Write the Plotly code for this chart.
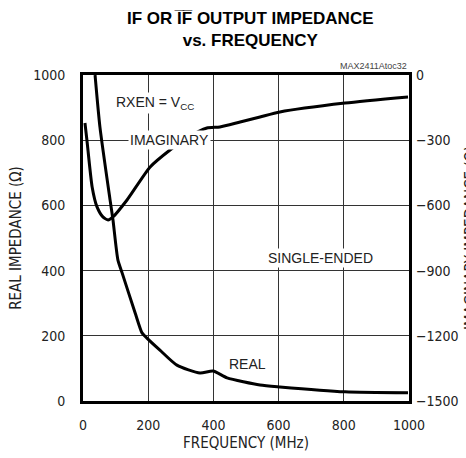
import plotly.graph_objects as go

freq_real = [37, 52, 83, 92, 107, 120, 160, 181, 196, 236, 288, 359, 399, 442, 543, 604, 804, 997]
real_vals = [1000, 840, 617, 555, 433, 393, 270, 209, 193, 156, 110, 86, 92, 71, 49, 43, 28, 25]

freq_imag = [6, 12, 28, 43, 61, 77, 92, 135, 206, 267, 319, 380, 420, 482, 543, 604, 804, 997]
imag_vals = [-221, -299, -515, -607, -653, -667, -653, -575, -423, -345, -290, -244, -239, -216, -193, -170, -129, -101]

x_ticks = [0, 200, 400, 600, 800, 1000]
left_ticks = [0, 200, 400, 600, 800, 1000]
right_ticks = [0, -300, -600, -900, -1200, -1500]

FONT = "DejaVu Sans Condensed, Liberation Sans, Arial, sans-serif"
LFONT = "Liberation Sans, Arial, sans-serif"

fig = go.Figure()
fig.add_trace(go.Scatter(x=freq_real, y=real_vals, mode="lines", line=dict(color="black", width=3, shape="spline", smoothing=0.6), yaxis="y", showlegend=False))
fig.add_trace(go.Scatter(x=freq_imag, y=imag_vals, mode="lines", line=dict(color="black", width=3, shape="spline", smoothing=0.6), yaxis="y2", showlegend=False))

fig.update_layout(
    width=466, height=458,
    margin=dict(l=83, r=57, t=75, b=57),
    paper_bgcolor="white", plot_bgcolor="white",
    font=dict(family=FONT, size=13, color="#222"),
    xaxis=dict(range=[0, 1000], tickvals=x_ticks, ticks="", showgrid=True, gridcolor="#333", gridwidth=1,
               showline=True, linecolor="black", linewidth=3, mirror=True, zeroline=False, automargin=False,
               title=dict(text="FREQUENCY (MHz)", standoff=6, font=dict(size=15)), ticklabelstandoff=9,
               tickfont=dict(size=14)),
    yaxis=dict(range=[0, 1000], tickvals=left_ticks, ticks="", showgrid=True, gridcolor="#333", gridwidth=1,
               showline=True, linecolor="black", linewidth=3, mirror=True, zeroline=False, automargin=False,
               title=dict(text="REAL IMPEDANCE (Ω)", standoff=8, font=dict(size=15)), ticklabelstandoff=12,
               tickfont=dict(size=14)),
    yaxis2=dict(range=[-1500, 0], tickvals=right_ticks, ticks="", overlaying="y", side="right", showgrid=False,
                zeroline=False, showline=False, ticklabelstandoff=6, automargin=False,
                tickfont=dict(size=14)),
    annotations=[
        dict(text="<b>IF OR I\u0305F\u0305 OUTPUT IMPEDANCE<br>vs. FREQUENCY</b>", xref="paper", yref="paper",
             x=0.515, y=1.21, xanchor="center", yanchor="top", showarrow=False,
             font=dict(family=LFONT, size=17, color="black")),
        dict(text="MAX2411Atoc32", xref="paper", yref="paper", x=1.0, y=1.005, xanchor="right", yanchor="bottom",
             showarrow=False, font=dict(family=LFONT, size=9, color="#444")),
        dict(text="RXEN = V<sub>CC</sub>", x=221, y=914, xref="x", yref="y", showarrow=False, bgcolor="white",
             font=dict(family=LFONT, size=14)),
        dict(text="IMAGINARY", x=266, y=800, xref="x", yref="y", showarrow=False, bgcolor="white",
             font=dict(family=LFONT, size=14)),
        dict(text="SINGLE-ENDED", x=727, y=439, xref="x", yref="y", showarrow=False, bgcolor="white",
             font=dict(family=LFONT, size=14)),
        dict(text="REAL", x=506, y=113, xref="x", yref="y", showarrow=False, bgcolor="white",
             font=dict(family=LFONT, size=14)),
        dict(text="IMAGINARY IMPEDANCE (Ω)", xref="paper", yref="paper", x=1.19, y=0.5, textangle=-90,
             xanchor="center", yanchor="middle", showarrow=False, font=dict(size=15)),
    ],
)

fig.write_html("out.html", config={"displayModeBar": False},
               post_script="document.body.style.margin='0';document.body.style.overflow='hidden';")
